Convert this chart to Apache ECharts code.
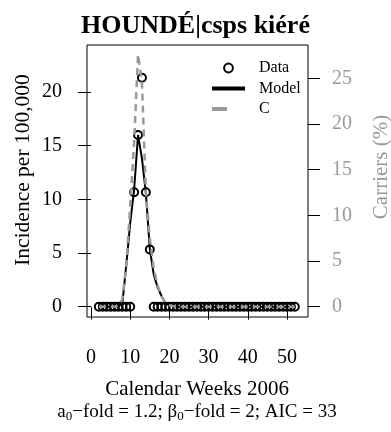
<!DOCTYPE html>
<html><head><meta charset="utf-8">
<script src="https://cdn.jsdelivr.net/npm/echarts@6/dist/echarts.min.js"></script>
<style>html,body{margin:0;padding:0;background:#fff}#c{width:391px;height:432px}</style>
</head><body><div id="c"></div>
<script>
// ---- data ----
const weeks = [2,3,4,5,6,7,8,9,10,11,12,13,14,15,16,17,18,19,20,21,22,23,24,25,26,27,28,29,30,31,32,33,34,35,36,37,38,39,40,41,42,43,44,45,46,47,48,49,50,51,52];
const incidence = [0,0,0,0,0,0,0,0,0,10.67,16,21.33,10.67,5.33,0,0,0,0,0,0,0,0,0,0,0,0,0,0,0,0,0,0,0,0,0,0,0,0,0,0,0,0,0,0,0,0,0,0,0,0,0];
const model = [0,0,0,0,0,0.02,0.3,3.9,7.8,10.9,16,13.8,10.6,5.4,3.0,1.8,1.0,0.35,0.1,0.03,0,0,0,0,0,0,0,0,0,0,0,0,0,0,0,0,0,0,0,0,0,0,0,0,0,0,0,0,0,0,0];
const carriers = [0,0,0,0,0,0.1,0.8,4.5,11,18,27.6,24.5,12.5,7.5,4.2,2.3,1.1,0.45,0.15,0.05,0,0,0,0,0,0,0,0,0,0,0,0,0,0,0,0,0,0,0,0,0,0,0,0,0,0,0,0,0,0,0];
const xTicks = [0,10,20,30,40,50];
const leftTicks = [0,5,10,15,20];
const rightTicks = [0,5,10,15,20,25];
const titleText = 'HOUNDÉ|csps kiéré';
const xTitle = 'Calendar Weeks 2006';
const leftTitle = 'Incidence per 100,000';
const rightTitle = 'Carriers (%)';
const subLine = '{n|a}{s|0}{n|−fold = 1.2; β}{s|0}{n|−fold = 2; AIC = 33}';

const FONT = "'Liberation Serif','Times New Roman',serif";
const GRAY = '#999999';
const pairs = (ys) => weeks.map((w, i) => [w, ys[i]]);

const chart = echarts.init(document.getElementById('c'), null, {renderer: 'canvas'});
chart.setOption({
  animation: false,
  backgroundColor: '#fff',
  title: {
    text: titleText, left: 'center', top: 8,
    textStyle: {fontFamily: FONT, fontWeight: 'bold', fontSize: 26, lineHeight: 26, color: '#000'}
  },
  grid: {left: 87, top: 45, width: 221, height: 272, show: true, borderColor: '#000', borderWidth: 1, backgroundColor: 'transparent', outerBoundsMode: 'none'},
  legend: {
    orient: 'vertical', left: 205, top: 55, itemWidth: 33, itemHeight: 11, itemGap: 4.5,
    textStyle: {fontFamily: FONT, fontSize: 16, color: '#000', padding: [0,0,0,9]},
    data: [
      {name: 'Data'},
      {name: 'Model', lineStyle: {width: 4}, itemStyle: {opacity: 0}},
      {name: 'C', lineStyle: {width: 4, type: [15, 30]}, itemStyle: {opacity: 0}}
    ]
  },
  xAxis: {
    type: 'value', min: -1.02, max: 55.36,
    axisLine: {show: false}, splitLine: {show: false},
    axisTick: {show: true, length: 13, customValues: xTicks, lineStyle: {color: '#000', width: 1}},
    axisLabel: {customValues: xTicks, margin: 31, fontFamily: FONT, fontSize: 20, lineHeight: 20, color: '#000'}
  },
  yAxis: [
    {
      type: 'value', position: 'left', min: -0.96, max: 24.38,
      axisLine: {show: false}, splitLine: {show: false},
      axisTick: {show: true, length: 13, customValues: leftTicks, lineStyle: {color: '#000', width: 1}},
      axisLabel: {customValues: leftTicks, margin: 25, fontFamily: FONT, fontSize: 20, color: '#000'}
    },
    {
      type: 'value', position: 'right', min: -1.13, max: 28.64,
      axisLine: {show: false}, splitLine: {show: false},
      axisTick: {show: true, length: 12, customValues: rightTicks, lineStyle: {color: '#000', width: 1}},
      axisLabel: {customValues: rightTicks, margin: 24, fontFamily: FONT, fontSize: 20, color: GRAY}
    }
  ],
  series: [
    {
      name: 'Data', type: 'line', yAxisIndex: 0, data: pairs(incidence),
      symbol: 'circle', symbolSize: 8, showAllSymbol: true,
      lineStyle: {width: 0, opacity: 0},
      itemStyle: {color: 'rgba(0,0,0,0)', borderColor: '#000', borderWidth: 2},
      z: 2
    },
    {
      name: 'Model', type: 'line', yAxisIndex: 0, data: pairs(model),
      symbol: 'none', lineStyle: {color: '#000', width: 2}, itemStyle: {color: '#000'}, z: 3
    },
    {
      name: 'C', type: 'line', yAxisIndex: 1, data: pairs(carriers),
      symbol: 'none', lineStyle: {color: GRAY, width: 2.5, type: [7, 5]}, itemStyle: {color: GRAY}, z: 4
    }
  ],
  graphic: [
    {type: 'text', x: 197, y: 389.5, style: {text: xTitle, fontFamily: FONT, fontSize: 21, fill: '#000', align: 'center', verticalAlign: 'middle'}},
    {type: 'text', x: 197, y: 412, style: {text: subLine, fontFamily: FONT, fontSize: 19, fill: '#000', align: 'center', verticalAlign: 'middle',
      rich: {n: {fontFamily: FONT, fontSize: 19, lineHeight: 22, verticalAlign: 'middle'}, s: {fontFamily: FONT, fontSize: 13, lineHeight: 13, verticalAlign: 'bottom'}}}},
    {type: 'text', x: 23, y: 170, rotation: Math.PI / 2, style: {text: leftTitle, fontFamily: FONT, fontSize: 21.5, fill: '#000', align: 'center', verticalAlign: 'middle'}},
    {type: 'text', x: 381, y: 167, rotation: Math.PI / 2, style: {text: rightTitle, fontFamily: FONT, fontSize: 21, fill: GRAY, align: 'center', verticalAlign: 'middle'}}
  ]
});
</script>
</body></html>
